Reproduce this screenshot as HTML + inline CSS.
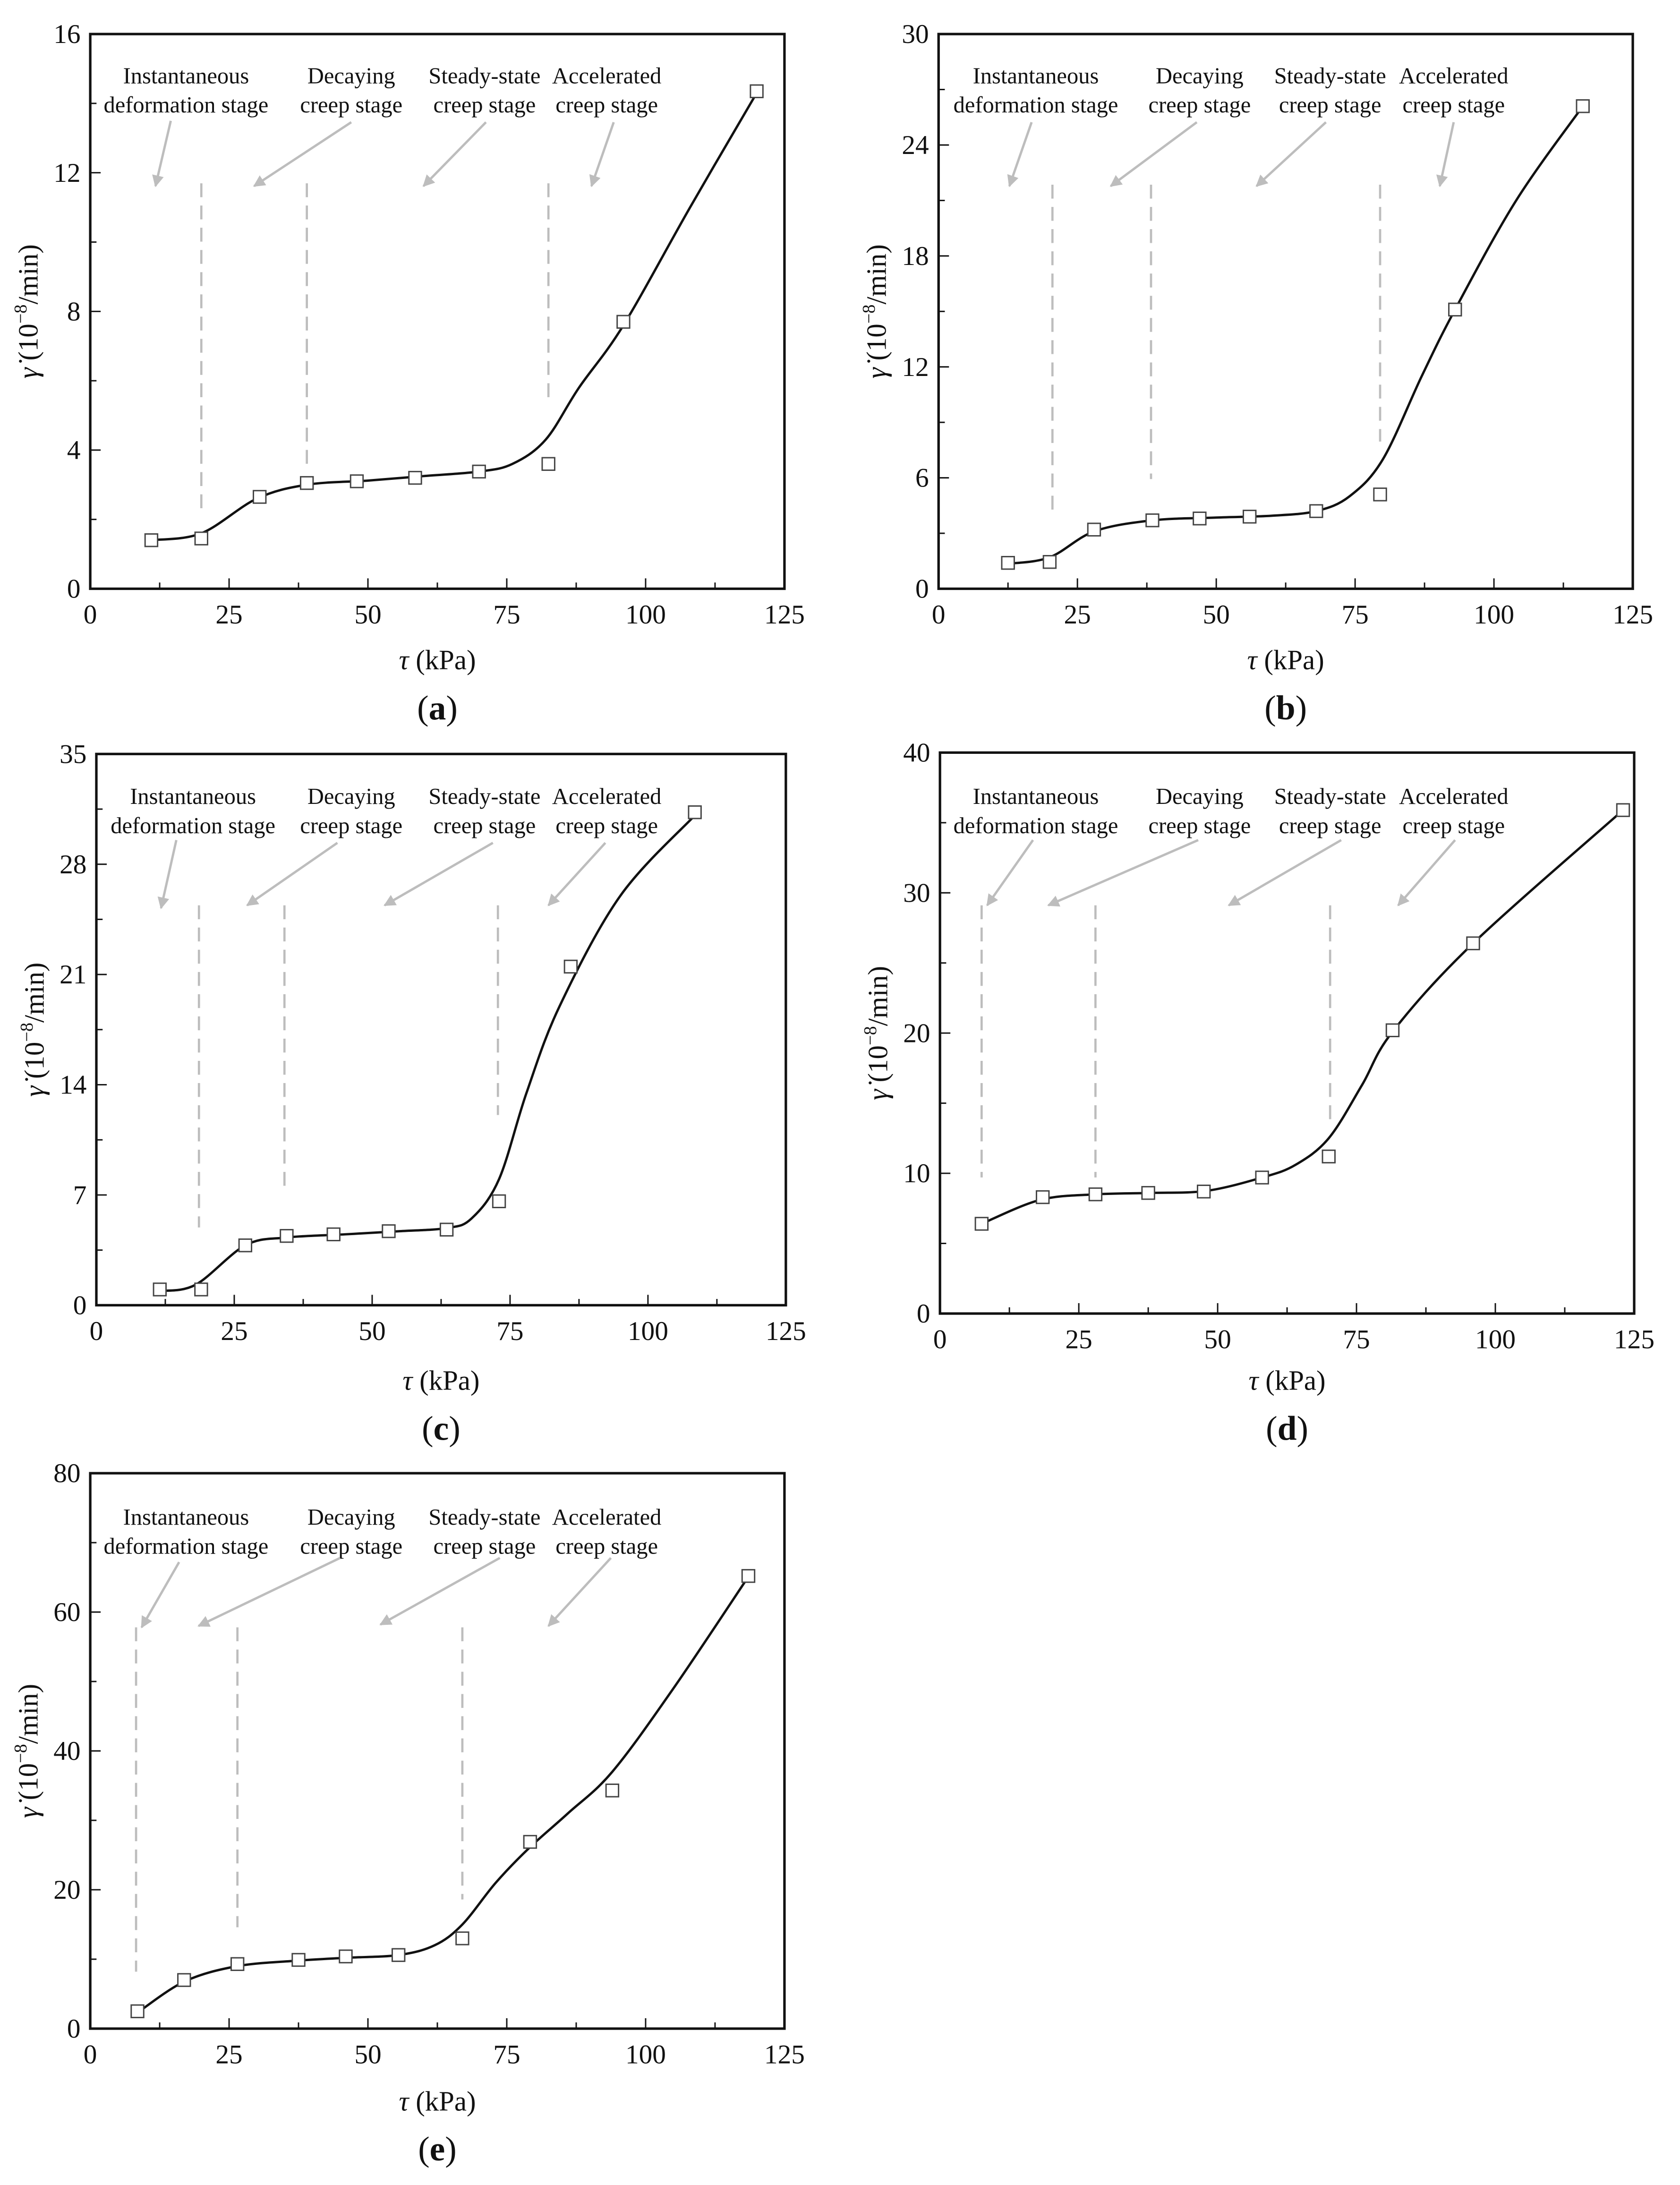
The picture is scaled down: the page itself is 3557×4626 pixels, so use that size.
<!DOCTYPE html>
<html><head><meta charset="utf-8"><style>
html,body{margin:0;padding:0;background:#fff}
svg{display:block}
text{font-family:"Liberation Serif",serif;fill:#111}
</style></head><body>
<svg id="fig" width="3557" height="4626" viewBox="0 0 1210 1573.6" xmlns="http://www.w3.org/2000/svg"></svg>
<script>
// ---- data (tau in kPa, creep rate in 1e-8/min) ----
const aX=[11,20,30.5,39,48,58.5,70,82.5,96,120];
const aY=[1.4,1.45,2.65,3.05,3.1,3.2,3.38,3.6,7.7,14.35];
const aFitX=[11,20,30,39,50,60,70,76,82,88,96,108,120];
const aFitY=[1.4,1.6,2.6,3.0,3.12,3.25,3.38,3.6,4.3,5.8,7.6,11,14.3];
const bX=[12.5,20,28,38.5,47,56,68,79.5,93,116];
const bY=[1.4,1.45,3.2,3.7,3.8,3.9,4.2,5.1,15.1,26.1];
const bFitX=[12.5,20,28,38.5,50,60,68,74,80,87,93,104,116];
const bFitY=[1.35,1.7,3.1,3.7,3.85,3.95,4.2,5.0,7.0,11.5,15.1,21,26.1];
const cX=[11.5,19,27,34.5,43,53,63.5,73,86,108.5];
const cY=[1.0,1.0,3.8,4.4,4.5,4.7,4.8,6.6,21.5,31.3];
const cFitX=[11.5,18,27,34.5,45,55,63.5,68,73,78,84,95,108.5];
const cFitY=[0.9,1.3,3.8,4.3,4.5,4.7,4.9,5.5,8,13.5,19,26,31.1];
const dX=[7.5,18.5,28,37.5,47.5,58,70,81.5,96,123];
const dY=[6.4,8.3,8.5,8.6,8.7,9.7,11.2,20.2,26.4,35.9];
const dFitX=[7.5,18,28,38,48,58,64,70,76,81.5,96,123];
const dFitY=[6.4,8.1,8.5,8.6,8.75,9.7,10.6,12.5,16.3,20.1,26.4,35.9];
const eX=[8.5,16.9,26.5,37.5,46,55.5,67,79.2,94,118.5];
const eY=[2.5,7,9.3,9.9,10.4,10.6,13,26.9,34.3,65.2];
const eFitX=[8.5,17,26.5,37.5,46,55.5,62,67,73,79,86,94,105,118.5];
const eFitY=[2.3,6.8,9.0,9.8,10.2,10.6,12,15,21,26,31,37,49,65.1];
const xTicks=[0,25,50,75,100,125];
const aTicks=[0,4,8,12,16], bTicks=[0,6,12,18,24,30], cTicks=[0,7,14,21,28,35], dTicks=[0,10,20,30,40], eTicks=[0,20,40,60,80];
const aBounds=[20,39,82.5], bBounds=[20.5,38.25,79.5], cBounds=[18.6,34.1,72.8], dBounds=[7.5,28,70.25], eBounds=[8.25,26.5,67];
const stageLine1=["Instantaneous","Decaying","Steady-state","Accelerated"];
const stageLine2=["deformation stage","creep stage","creep stage","creep stage"];

const NS="http://www.w3.org/2000/svg";
const svg=document.getElementById('fig');
function mk(tag,attrs,parent){const e=document.createElementNS(NS,tag);for(const k in attrs)e.setAttribute(k,attrs[k]);(parent||svg).appendChild(e);return e;}

const panels=[
 {id:'a',L:65,R:565,T:24.5,B:424,ymax:16,yt:aTicks,px:aX,py:aY,fx:aFitX,fy:aFitY,bd:aBounds,dashY:[[132,368],[132,340],[132,290]],
  txt:[134,253,349,437],ty:55,arrows:[[123,87,112,134],[253,88,183,134],[350,88,305,134],[442,88,426,134]],xl:475,pl:510},
 {id:'b',L:676,R:1176,T:24.5,B:424,ymax:30,yt:bTicks,px:bX,py:bY,fx:bFitX,fy:bFitY,bd:bBounds,dashY:[[133,368],[133,345],[133,318]],
  txt:[746,864,958,1047],ty:55,arrows:[[743,88,727,134],[862,88,800,134],[955,88,905,134],[1047,88,1037,134]],xl:475,pl:510},
 {id:'c',L:69.4,R:566,T:543,B:940,ymax:35,yt:cTicks,px:cX,py:cY,fx:cFitX,fy:cFitY,bd:cBounds,dashY:[[652,884],[652,858],[652,803]],
  txt:[139,253,349,437],ty:574,arrows:[[127,605,116,654],[243,607,178,652],[355,607,277,652],[436,607,395,652]],xl:994,pl:1029},
 {id:'d',L:677,R:1177,T:542,B:946,ymax:40,yt:dTicks,px:dX,py:dY,fx:dFitX,fy:dFitY,bd:dBounds,dashY:[[652,848],[652,848],[652,808]],
  txt:[746,864,958,1047],ty:574,arrows:[[744,605,711,652],[863,605,755,652],[966,605,885,652],[1048,605,1007,652]],xl:994,pl:1029},
 {id:'e',L:65,R:565,T:1061,B:1461,ymax:80,yt:eTicks,px:eX,py:eY,fx:eFitX,fy:eFitY,bd:eBounds,dashY:[[1172,1420],[1172,1388],[1172,1368]],
  txt:[134,253,349,437],ty:1093,arrows:[[129,1125,102,1172],[245,1122,143,1171],[360,1122,274,1170],[440,1122,395,1171]],xl:1513,pl:1548}
];

mk('defs',{}).innerHTML='<marker id="ah" viewBox="0 0 10 10" refX="9" refY="5" markerWidth="5" markerHeight="5" orient="auto"><path d="M0,0 L10,5 L0,10 z" fill="#bdbdbd"/></marker>';

panels.forEach(p=>{
  const g=mk('g',{});
  
  
  const sx=v=>p.L+(v/125)*(p.R-p.L);
  const sy=v=>p.B-(v/p.ymax)*(p.B-p.T);
  for(let i=0;i<=10;i++){const v=i*12.5;const len=i%2?4.5:7.5;
    const t=mk('line',{x1:sx(v),x2:sx(v),y1:p.B,y2:p.B-len,stroke:'#111','stroke-width':1},g);
    }
  xTicks.forEach(v=>{const t=mk('text',{x:sx(v),y:p.B+25,'text-anchor':'middle','font-size':19.5},g);t.textContent=v;
    });
  const step=p.yt[1];
  for(let v=0;v<=p.ymax+1e-9;v+=step/2){const major=Math.abs(v/step-Math.round(v/step))<1e-6;
    const t=mk('line',{x1:p.L,x2:p.L+(major?7.5:4.5),y1:sy(v),y2:sy(v),stroke:'#111','stroke-width':1},g);
    }
  p.yt.forEach(v=>{const t=mk('text',{x:p.L-7,y:sy(v)+6.5,'text-anchor':'end','font-size':19.5},g);t.textContent=v;
    });
  const fr=mk('rect',{x:p.L,y:p.T,width:p.R-p.L,height:p.B-p.T,fill:'none',stroke:'#111','stroke-width':1.8},g);
  
  p.txt.forEach((cx,i)=>{
    const t1=mk('text',{x:cx,y:p.ty+5,'text-anchor':'middle','font-size':16.5},g);t1.textContent=stageLine1[i];
    
    const t2=mk('text',{x:cx,y:p.ty+26,'text-anchor':'middle','font-size':16.5},g);t2.textContent=stageLine2[i];
    
    const a=p.arrows[i];
    const ar=mk('line',{x1:a[0],y1:a[1],x2:a[2],y2:a[3],stroke:'#bdbdbd','stroke-width':1.7,'marker-end':'url(#ah)'},g);
    
  });
  p.bd.forEach((v,i)=>{
    const d=mk('line',{x1:sx(v),x2:sx(v),y1:p.dashY[i][0],y2:p.dashY[i][1],stroke:'#bdbdbd','stroke-width':1.6,'stroke-dasharray':'10 6'},g);
    
  });
  const P=p.fx.map((x,i)=>[sx(x),sy(p.fy[i])]);
  let dd='M'+P[0][0]+','+P[0][1];
  for(let i=0;i<P.length-1;i++){const p0=P[i-1]||P[i],p1=P[i],p2=P[i+1],p3=P[i+2]||P[i+1];
    dd+=' C'+(p1[0]+(p2[0]-p0[0])/6)+','+(p1[1]+(p2[1]-p0[1])/6)+' '+(p2[0]-(p3[0]-p1[0])/6)+','+(p2[1]-(p3[1]-p1[1])/6)+' '+p2[0]+','+p2[1];}
  const c=mk('path',{d:dd,fill:'none',stroke:'#111','stroke-width':1.7},g);
  
  p.px.forEach((x,i)=>{
    const m=mk('rect',{x:sx(x)-4.5,y:sy(p.py[i])-4.5,width:9,height:9,fill:'#fff',stroke:'#444','stroke-width':1},g);
    
  });
  const cxm=(p.L+p.R)/2, cym=(p.T+p.B)/2;
  const xt=mk('text',{x:cxm,y:p.xl+7,'text-anchor':'middle','font-size':20},g);
  xt.innerHTML='<tspan font-style="italic">τ</tspan> (kPa)';
  
  const yt=mk('text',{x:0,y:0,'text-anchor':'middle','font-size':20,transform:'translate('+(p.L-38)+','+cym+') rotate(-90)'},g);
  yt.innerHTML='<tspan font-style="italic">γ̇</tspan> (10<tspan dy="-8" font-size="13">−8</tspan><tspan dy="8">/min)</tspan>';
  
  const pl=mk('text',{x:cxm,y:p.pl+8,'text-anchor':'middle','font-size':25},g);
  pl.innerHTML='(<tspan font-weight="bold">'+p.id+'</tspan>)';
  
});
</script>
</body></html>
